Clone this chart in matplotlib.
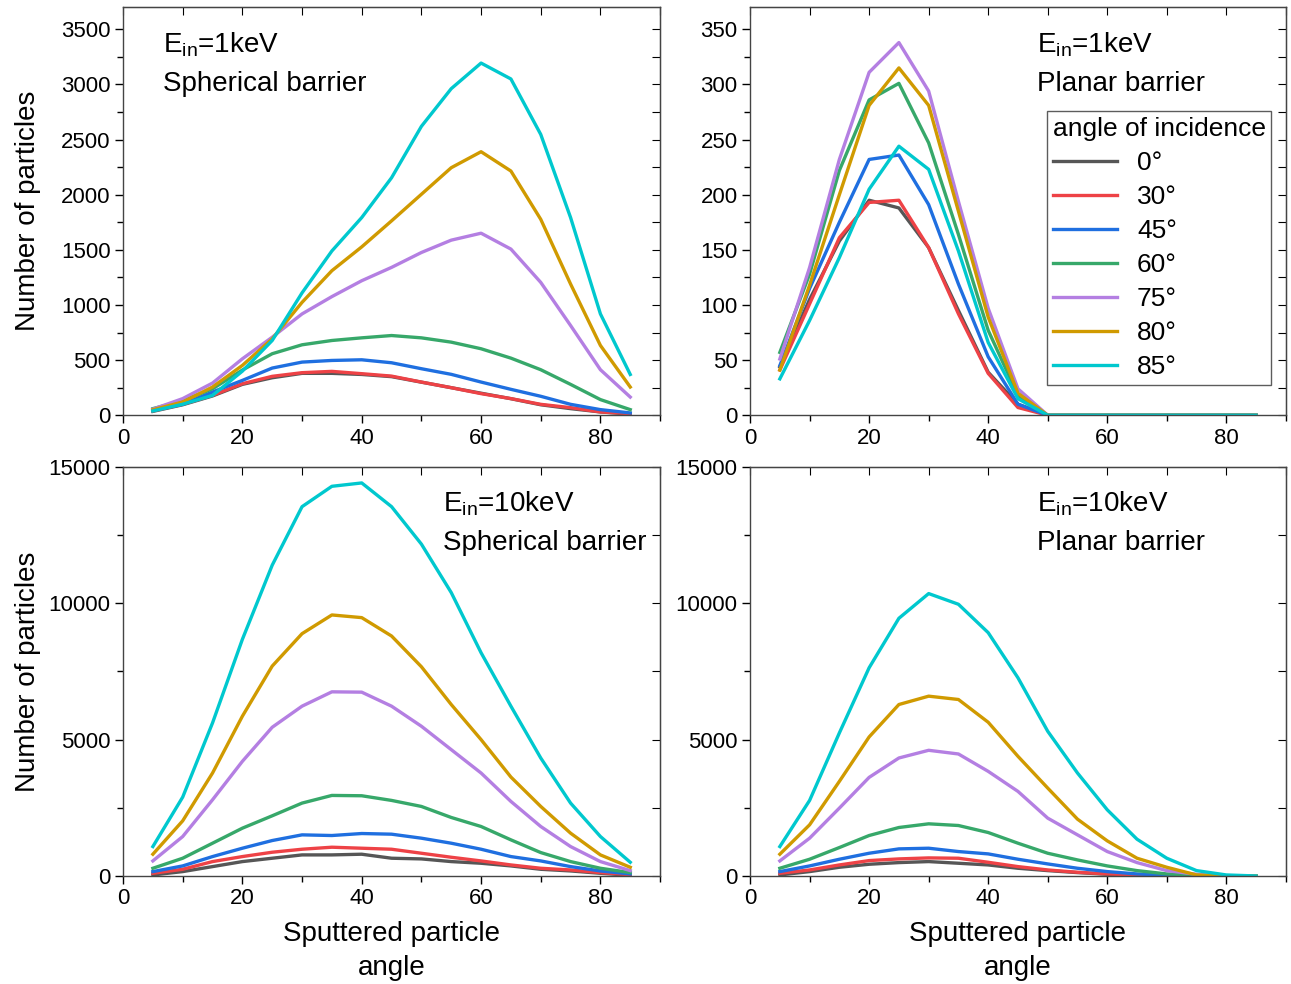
import numpy as np
import matplotlib
matplotlib.use("Agg")
import matplotlib.pyplot as plt
from matplotlib.ticker import MultipleLocator

plt.rcParams['font.family'] = ['Liberation Sans', 'DejaVu Sans']
plt.rcParams['mathtext.fontset'] = 'custom'
plt.rcParams['mathtext.rm'] = 'Liberation Sans'

# sputtered particle angle (deg)
angles = [5, 10, 15, 20, 25, 30, 35, 40, 45, 50, 55, 60, 65, 70, 75, 80, 85]
incidence = ['0°', '30°', '45°', '60°', '75°', '80°', '85°']
colors = ['#565656', '#EE4246', '#1F6FE0', '#37A86A', '#B47FE2', '#D09A00', '#00C8CE']

# 1 keV, spherical barrier
sph_1kev = [
    [35, 95, 175, 280, 340, 380, 380, 370, 350, 300, 250, 200, 150, 95, 60, 30, 10],
    [40, 100, 181, 286, 353, 386, 398, 377, 355, 301, 250, 196, 151, 99, 69, 30, 15],
    [45, 100, 211, 316, 428, 482, 497, 503, 476, 422, 371, 301, 235, 172, 99, 51, 21],
    [60, 130, 240, 410, 558, 639, 678, 702, 723, 702, 663, 603, 518, 413, 280, 142, 51],
    [55, 151, 292, 512, 708, 919, 1076, 1220, 1341, 1476, 1588, 1651, 1507, 1205, 814, 413, 165],
    [50, 120, 256, 452, 693, 1024, 1311, 1527, 1763, 2004, 2245, 2390, 2215, 1777, 1190, 633, 256],
    [39, 100, 180, 400, 678, 1110, 1490, 1793, 2154, 2620, 2962, 3194, 3050, 2547, 1793, 919, 370],
]

# 1 keV, planar barrier
pla_1kev = [
    [44, 105, 158, 195, 188, 152, 95, 39, 10, 0, 0, 0, 0, 0, 0, 0, 0],
    [41, 101, 161, 193, 195, 152, 92, 38, 7, 0, 0, 0, 0, 0, 0, 0, 0],
    [45, 115, 175, 232, 236, 191, 119, 53, 10, 0, 0, 0, 0, 0, 0, 0, 0],
    [57, 128, 222, 286, 301, 247, 164, 77, 18, 0, 0, 0, 0, 0, 0, 0, 0],
    [51, 134, 232, 311, 338, 294, 194, 97, 24, 0, 0, 0, 0, 0, 0, 0, 0],
    [41, 118, 200, 281, 315, 281, 185, 89, 20, 0, 0, 0, 0, 0, 0, 0, 0],
    [33, 86, 143, 205, 244, 223, 149, 66, 15, 0, 0, 0, 0, 0, 0, 0, 0],
]

# 10 keV, spherical barrier
sph_10kev = [
    [37, 160, 343, 527, 650, 772, 772, 797, 650, 625, 527, 466, 368, 245, 184, 98, 25],
    [98, 245, 527, 711, 870, 980, 1054, 1017, 980, 833, 686, 551, 404, 282, 220, 123, 49],
    [160, 368, 711, 1017, 1299, 1507, 1483, 1556, 1532, 1385, 1201, 980, 711, 551, 343, 184, 74],
    [282, 650, 1201, 1752, 2206, 2672, 2953, 2941, 2770, 2549, 2145, 1814, 1324, 858, 527, 282, 123],
    [551, 1446, 2794, 4203, 5453, 6226, 6752, 6740, 6226, 5490, 4632, 3775, 2733, 1814, 1078, 527, 196],
    [797, 2022, 3775, 5858, 7696, 8885, 9571, 9473, 8799, 7672, 6287, 5000, 3627, 2549, 1569, 772, 319],
    [1078, 2892, 5613, 8677, 11397, 13542, 14289, 14412, 13542, 12169, 10392, 8186, 6226, 4326, 2672, 1446, 502],
]

# 10 keV, planar barrier
pla_10kev = [
    [37, 160, 319, 429, 490, 527, 466, 404, 282, 196, 123, 61, 25, 10, 0, 0, 0],
    [98, 220, 404, 564, 625, 662, 650, 502, 343, 220, 135, 74, 37, 10, 0, 0, 0],
    [160, 368, 613, 833, 993, 1017, 895, 809, 613, 441, 282, 160, 74, 25, 0, 0, 0],
    [282, 613, 1042, 1483, 1777, 1912, 1850, 1593, 1201, 833, 588, 368, 196, 74, 25, 0, 0],
    [551, 1385, 2488, 3615, 4326, 4608, 4473, 3836, 3101, 2120, 1507, 895, 490, 196, 61, 0, 0],
    [797, 1875, 3468, 5098, 6287, 6593, 6471, 5637, 4387, 3223, 2083, 1287, 650, 319, 37, 0, 0],
    [1078, 2770, 5245, 7635, 9449, 10355, 9963, 8922, 7267, 5306, 3775, 2426, 1348, 650, 196, 37, 0],
]

panels = [
    (sph_1kev, '1keV', 'Spherical barrier', 3700, 500, 250, (0.075, 0.945)),
    (pla_1kev, '1keV', 'Planar barrier', 370, 50, 25, (0.535, 0.945)),
    (sph_10kev, '10keV', 'Spherical barrier', 15000, 5000, 2500, (0.595, 0.945)),
    (pla_10kev, '10keV', 'Planar barrier', 15000, 5000, 2500, (0.535, 0.945)),
]

fig = plt.figure(figsize=(12.91, 9.84), dpi=100)
rects = [
    [0.0953, 0.578, 0.416, 0.4146],
    [0.581, 0.578, 0.415, 0.4146],
    [0.0953, 0.1098, 0.416, 0.4157],
    [0.581, 0.1098, 0.415, 0.4157],
]

for i, (data, energy, barrier, ymax, ymaj, ymin, txy) in enumerate(panels):
    ax = fig.add_axes(rects[i])
    for vals, lab, c in zip(data, incidence, colors):
        ax.plot(angles, vals, color=c, lw=2.4, label=lab)
    ax.set_xlim(0, 90)
    ax.set_ylim(0, ymax)
    ax.xaxis.set_major_locator(MultipleLocator(20))
    ax.xaxis.set_minor_locator(MultipleLocator(10))
    ax.yaxis.set_major_locator(MultipleLocator(ymaj))
    ax.yaxis.set_minor_locator(MultipleLocator(ymin))
    ax.tick_params(which='major', direction='out', length=6, width=1, labelsize=16, pad=3)
    ax.tick_params(which='minor', direction='out', length=4, width=1)
    for sp in ax.spines.values():
        sp.set_color('#444444')
        sp.set_linewidth(1)

    # mirrored ticks on top/right, pointing in
    top = ax.secondary_xaxis('top')
    top.xaxis.set_major_locator(MultipleLocator(10))
    top.tick_params(direction='in', length=6, labeltop=False)
    right = ax.secondary_yaxis('right')
    right.yaxis.set_major_locator(MultipleLocator(ymin))
    right.tick_params(direction='in', length=6, labelright=False)

    ax.text(txy[0], txy[1], 'E$_{\\mathregular{in}}$=' + energy + '\n' + barrier,
            transform=ax.transAxes, fontsize=20, va='top', ha='left', linespacing=1.6)

    if i % 2 == 0:
        ax.set_ylabel('Number of particles', fontsize=20)
        ax.yaxis.set_label_coords(-0.152, 0.5)
    if i >= 2:
        ax.set_xlabel('Sputtered particle\nangle', fontsize=20, labelpad=8, linespacing=1.4)
    if i == 1:
        leg = ax.legend(title='angle of incidence', loc='upper right',
                        bbox_to_anchor=(0.973, 0.745), fontsize=19, title_fontsize=19,
                        frameon=True, fancybox=False, edgecolor='#333333',
                        handlelength=2.45, labelspacing=0.38, handletextpad=0.75,
                        borderpad=0.22, borderaxespad=0, alignment='left')
        leg.get_frame().set_linewidth(1)

fig.savefig('out.png', dpi=100)
